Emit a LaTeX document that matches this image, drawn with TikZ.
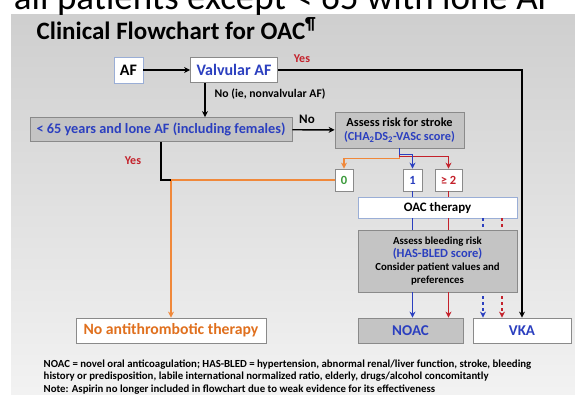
\documentclass[tikz,border=0pt]{standalone}
\usepackage{fontspec}
\setmainfont{Carlito}
\usetikzlibrary{arrows.meta}
\definecolor{ablue}{HTML}{2B3FBF}
\definecolor{ared}{HTML}{C4212B}
\definecolor{aorange}{HTML}{F0883A}
\definecolor{atext}{HTML}{E0701E}
\definecolor{agreen}{HTML}{3B9A3B}
\definecolor{agray}{HTML}{C4C4C4}
\definecolor{aframe}{HTML}{8A8A8A}
\definecolor{aframeb}{HTML}{9AAED6}

\begin{document}
\begin{tikzpicture}[x=1pt,y=-1pt,>={Stealth[length=6pt,width=6pt]},line width=1.4pt,
  wbox/.style={draw=aframe,line width=0.8pt,fill=white,inner sep=0pt,align=center,font=\bfseries},
  gbox/.style={wbox,fill=agray},
  lbl/.style={inner sep=0pt,font=\bfseries\fontsize{12}{14}\selectfont},
  note/.style={anchor=base west,inner sep=0pt,font=\bfseries\fontsize{10.8}{12}\selectfont}]
  \useasboundingbox (0,0) rectangle (575,394);
  % slide background and the clipped caption above it
  \shade[top color=black!19,bottom color=black!5] (11,14) rectangle (575,394);
  \begin{scope}
    \clip (0,0) rectangle (575,14);
    \node[anchor=base west,inner sep=0pt,font=\fontsize{37}{42}\selectfont] (cut) at (-8,9) {r all patients except < 65 with lone AF};
  \end{scope}
  \node[anchor=base west,inner sep=0pt,font=\bfseries\fontsize{25}{30}\selectfont] (title) at (36,39) {Clinical Flowchart for OAC\textsuperscript{¶}};

  % boxes
  \node[wbox,draw=aframeb,minimum width=29,minimum height=26,font=\bfseries\fontsize{16}{18}\selectfont] (af) at (128.5,70) {AF};
  \node[wbox,minimum width=87,minimum height=25,font=\bfseries\fontsize{16}{18}\selectfont,text=ablue] (valv) at (234,70) {Valvular AF};
  \node[gbox,minimum width=262,minimum height=24,font=\bfseries\fontsize{14.3}{16}\selectfont,text=ablue] (lone) at (161,129.5) {< 65 years and lone AF (including females)};
  \node[gbox,minimum width=129,minimum height=36,font=\bfseries\fontsize{12.3}{14}\selectfont] (strk) at (399.5,130)
    {Assess risk for stroke\\\textcolor{ablue}{(CHA\textsubscript{2}DS\textsubscript{2}-VASc score)}};
  \node[wbox,minimum width=18,minimum height=22,font=\bfseries\fontsize{12.5}{14}\selectfont,text=agreen] (s0) at (344,180) {0};
  \node[wbox,minimum width=19,minimum height=22,font=\bfseries\fontsize{12.5}{14}\selectfont,text=ablue] (s1) at (412.5,180) {1};
  \node[wbox,minimum width=27,minimum height=22,font=\bfseries\fontsize{12.5}{14}\selectfont,text=ared] (s2) at (448.5,180) {≥ 2};
  \node[wbox,draw=aframeb,minimum width=159,minimum height=21,font=\bfseries\fontsize{12.9}{14}\selectfont] (oac) at (437.5,207.5) {OAC therapy};
  \node[gbox,minimum width=105,minimum height=25,font=\bfseries\fontsize{15}{17}\selectfont,text=ablue] (noac) at (410.5,330.5) {NOAC};
  \node[wbox,minimum width=98,minimum height=25,font=\bfseries\fontsize{15}{17}\selectfont,text=ablue] (vka) at (522,330.5) {VKA};
  \node[wbox,minimum width=190,minimum height=25,font=\bfseries\fontsize{15.7}{17}\selectfont,text=atext] (none) at (171,330.5) {No antithrombotic therapy};

  % connectors
  \draw[->] (af) -- (valv);
  \draw[->] (valv) -| (vka);
  \node[lbl,text=ared] (yes1) at (302,59) {Yes};
  \coordinate (vdrop) at ([xshift=-29pt]valv.south);
  \draw[->] (vdrop) -- (vdrop |- lone.north);
  \node[lbl,anchor=west,font=\bfseries\fontsize{11.7}{14}\selectfont] (nonv) at (214,94) {No (ie, nonvalvular AF)};
  \draw[->] (lone) -- (strk);
  \node[lbl,font=\bfseries\fontsize{13}{15}\selectfont] (no1) at (307,119) {No};
  \draw[aorange,->] (strk.south) -- ++(0,10) -| (s0);
  \draw[ared,->] (strk.south) -- ++(0,8) -| (s2);
  \draw[ablue,->] (strk.south) -- ++(0,6) -| (s1);
  \coordinate (jn) at (none.north |- s0.west);
  \draw[aorange,->] (s0.west) -- (jn) -- (none.north);
  \draw (lone.south) |- (jn);
  \node[lbl,text=ared] (yes2) at (133,161) {Yes};
  \draw[ablue] (s1) -- (s1 |- oac.north);
  \draw[ared] (s2) -- (s2 |- oac.north);
  \draw[ablue,dashed,->] ([xshift=45.5pt]oac.south) -- ([xshift=45.5pt]oac.south |- vka.north);
  \draw[ared,dashed,->] ([xshift=64.5pt]oac.south) -- ([xshift=64.5pt]oac.south |- vka.north);
  \node[gbox,minimum width=159,minimum height=62,font=\bfseries\fontsize{10.8}{13}\selectfont] (bleed) at (437.5,261)
    {Assess bleeding risk\\{\color{ablue}\fontsize{12.5}{13}\selectfont (HAS-BLED score)}\\Consider patient values and\\preferences};
  \draw[ablue] (s1 |- oac.south) -- (s1 |- bleed.north);
  \draw[ared] (s2 |- oac.south) -- (s2 |- bleed.north);
  \draw[ablue,->] (s1 |- bleed.south) -- (s1 |- noac.north);
  \draw[ared,->] (s2 |- bleed.south) -- (s2 |- noac.north);

  % footnote
  \node[note] (n1) at (43,367) {NOAC = novel oral anticoagulation; HAS-BLED = hypertension, abnormal renal/liver function, stroke, bleeding};
  \node[note] (n2) at (43,379.5) {history or predisposition, labile international normalized ratio, elderly, drugs/alcohol concomitantly};
  \node[note] (n3) at (43,392) {Note: Aspirin no longer included in flowchart due to weak evidence for its effectiveness};
\end{tikzpicture}
\end{document}
